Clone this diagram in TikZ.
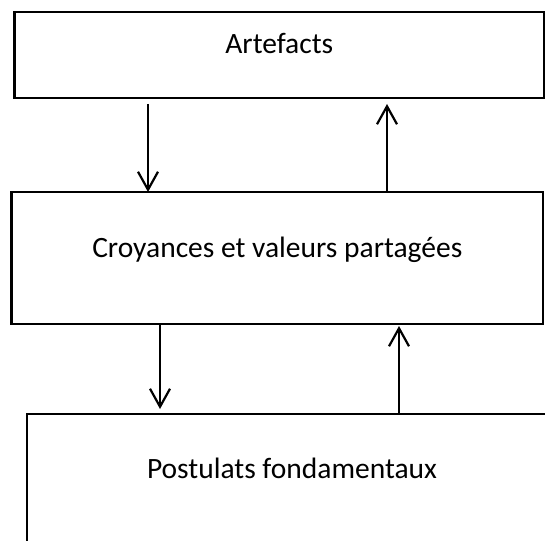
\documentclass[tikz,border=0pt]{standalone}
\usepackage{fontspec}
\setmainfont{Carlito}
\usetikzlibrary{arrows.meta}
\begin{document}
\begin{tikzpicture}[x=1pt,y=-1pt,
  boxstyle/.style={draw=black, line width=2.3pt, rectangle, inner sep=0pt, outer sep=0pt},
  lbl/.style={anchor=base, inner sep=0pt, font=\fontsize{29.5}{35}\selectfont},
  arr/.style={line width=2.2pt, -{Straight Barb[length=18pt,width=20pt,line width=2.2pt]}}]
\useasboundingbox (0,0) rectangle (545,540);
\clip (0,0) rectangle (545,540);
\node[boxstyle, minimum width=529.4pt, minimum height=86pt] (a) at (279.3,55) {};
\node[boxstyle, minimum width=531.5pt, minimum height=132pt] (b) at (277.25,258) {};
\node[boxstyle, minimum width=533pt, minimum height=186pt] (c) at (293.5,507) {};
\node[lbl] (ta) at (279.3,54) {Artefacts};
\node[lbl] (tb) at (277.25,257) {Croyances et valeurs partagées};
\node[lbl] (tc) at (292,478) {Postulats fondamentaux};
\coordinate (d1) at (148,104);
\coordinate (u1) at (387,104);
\coordinate (d2) at (160,409);
\coordinate (u2) at (399,326);
\draw[arr] (d1) -- (d1 |- b.north);
\draw[arr] (u1 |- b.north) -- (u1);
\draw[arr] (d2 |- b.south) -- (d2);
\draw[arr] (u2 |- c.north) -- (u2);
\end{tikzpicture}
\end{document}
